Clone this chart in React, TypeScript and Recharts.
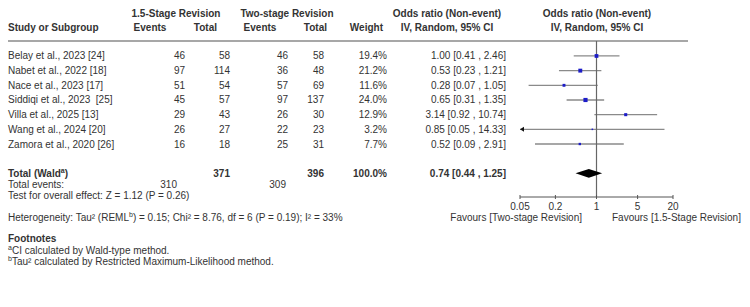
import React from "react";
import { ScatterChart, Scatter, XAxis, YAxis, ReferenceLine } from "recharts";

// Study rows
const studies = [
  "Belay et al., 2023 [24]",
  "Nabet et al., 2022 [18]",
  "Nace et al., 2023 [17]",
  "Siddiqi et al., 2023  [25]",
  "Villa et al., 2025 [13]",
  "Wang et al., 2024 [20]",
  "Zamora et al., 2020 [26]",
];
const eventsA = [46, 97, 51, 45, 29, 26, 16];
const totalA = [58, 114, 54, 57, 43, 27, 18];
const eventsB = [46, 36, 57, 97, 26, 22, 25];
const totalB = [58, 48, 69, 137, 30, 23, 31];
const weights = [19.4, 21.2, 11.6, 24.0, 12.9, 3.2, 7.7];
const oddsRatio = [1.0, 0.53, 0.28, 0.65, 3.14, 0.85, 0.52];
const ciLow = [0.41, 0.23, 0.07, 0.31, 0.92, 0.05, 0.09];
const ciHigh = [2.46, 1.21, 1.05, 1.35, 10.74, 14.33, 2.91];

// Pooled result
const pooled = { or: 0.74, low: 0.44, high: 1.25 };
const totals = { totalA: 371, totalB: 396, eventsA: 310, eventsB: 309, weight: 100.0 };

const xTicks = [0.05, 0.2, 1, 5, 20];
const X_MIN = 0.05;
const X_MAX = 20;

const TOTAL_ROW = 8;
const EVENTS_ROW = 8.75;
const TEST_ROW = 9.5;

const FONT = "'Liberation Sans', Arial, sans-serif";
const TEXT = "#333";

const studyData = studies.map((name, i) => ({
  x: oddsRatio[i],
  y: i,
  weight: weights[i],
  lo: ciLow[i],
  hi: ciHigh[i],
}));

const arrowData = studyData.filter((d) => d.lo <= X_MIN).map((d) => ({ x: X_MIN, y: d.y }));

const diamondData = [
  { x: pooled.low, y: TOTAL_ROW },
  { x: pooled.or, y: TOTAL_ROW - 0.3 },
  { x: pooled.high, y: TOTAL_ROW },
  { x: pooled.or, y: TOTAL_ROW + 0.3 },
];

const fmt2 = (v: number) => v.toFixed(2);
const ciText = (o: number, l: number, h: number) => `${fmt2(o)} [${fmt2(l)} , ${fmt2(h)}]`;

// column right edges
const COL = { evA: 185, totA: 230, evB: 288, totB: 324, weight: 387, or: 506 };

// y is the visual middle of the line
const Label = ({ x, y, children, anchor = "start", bold = false, size = 10 }: any) => (
  <text
    x={x}
    y={y + 3.5}
    textAnchor={anchor}
    fontSize={size}
    fontWeight={bold ? "bold" : "normal"}
    fill={TEXT}
    fontFamily={FONT}
    style={{ whiteSpace: "pre" }}
  >
    {children}
  </text>
);

// superscript letter followed by the rest of the line
const Sup = ({ c, rest }: { c: string; rest: string }) => (
  <>
    <tspan fontSize={7} dy={-4}>{c}</tspan>
    <tspan dy={4}>{rest}</tspan>
  </>
);

// Each y tick draws one line of the table
const RowTick = (props: any) => {
  const { y, payload } = props;
  const v = payload.value;
  if (v === TOTAL_ROW) {
    return (
      <g>
        <Label x={8} y={y} bold>
          Total (Wald<Sup c="a" rest=")" />
        </Label>
        <Label x={COL.totA} y={y} anchor="end" bold>{totals.totalA}</Label>
        <Label x={COL.totB} y={y} anchor="end" bold>{totals.totalB}</Label>
        <Label x={COL.weight} y={y} anchor="end" bold>{totals.weight.toFixed(1)}%</Label>
        <Label x={COL.or} y={y} anchor="end" bold>{ciText(pooled.or, pooled.low, pooled.high)}</Label>
      </g>
    );
  }
  if (v === EVENTS_ROW) {
    return (
      <g>
        <Label x={8} y={y}>Total events:</Label>
        <Label x={177} y={y} anchor="end">{totals.eventsA}</Label>
        <Label x={286} y={y} anchor="end">{totals.eventsB}</Label>
      </g>
    );
  }
  if (v === TEST_ROW) {
    return <Label x={8} y={y}>Test for overall effect: Z = 1.12 (P = 0.26)</Label>;
  }
  const i = v as number;
  return (
    <g>
      <Label x={8} y={y}>{studies[i]}</Label>
      <Label x={COL.evA} y={y} anchor="end">{eventsA[i]}</Label>
      <Label x={COL.totA} y={y} anchor="end">{totalA[i]}</Label>
      <Label x={COL.evB} y={y} anchor="end">{eventsB[i]}</Label>
      <Label x={COL.totB} y={y} anchor="end">{totalB[i]}</Label>
      <Label x={COL.weight} y={y} anchor="end">{weights[i].toFixed(1)}%</Label>
      <Label x={COL.or} y={y} anchor="end">{ciText(oddsRatio[i], ciLow[i], ciHigh[i])}</Label>
    </g>
  );
};

const XTick = (props: any) => {
  const { x, y, payload } = props;
  return (
    <g>
      <line x1={x} x2={x} y1={y - 2} y2={y + 2} stroke="#555" />
      <Label x={x} y={y + 9} anchor="middle">{payload.value}</Label>
    </g>
  );
};

const Square = (props: any) => {
  const { cx, cy, payload } = props;
  const s = Math.sqrt(payload.weight) * 0.85;
  return <rect x={cx - s / 2} y={cy - s / 2} width={s} height={s} fill="#1c1cc8" />;
};

const Arrow = (props: any) => {
  const { cx, cy } = props;
  return <polygon points={`${cx},${cy} ${cx + 4},${cy - 2.5} ${cx + 4},${cy + 2.5}`} fill="#111" />;
};

const Diamond = (p: any) => {
  const pts = (p.points || []).map((q: any) => `${q.x},${q.y}`).join(" ");
  return <polygon points={pts} fill="#000" />;
};

export default function App() {
  return (
    <div style={{ position: "absolute", left: 0, top: 0, width: 750, height: 307, background: "#fff" }}>
      <svg width={750} height={307} style={{ position: "absolute", left: 0, top: 0 }}>
        {/* column headers */}
        <Label x={176} y={13} anchor="middle" bold>1.5-Stage Revision</Label>
        <Label x={287} y={13} anchor="middle" bold>Two-stage Revision</Label>
        <Label x={447} y={13} anchor="middle" bold>Odds ratio (Non-event)</Label>
        <Label x={597} y={13} anchor="middle" bold>Odds ratio (Non-event)</Label>
        <Label x={8} y={27} bold>Study or Subgroup</Label>
        <Label x={150} y={27} anchor="middle" bold>Events</Label>
        <Label x={217} y={27} anchor="end" bold>Total</Label>
        <Label x={260} y={27} anchor="middle" bold>Events</Label>
        <Label x={327} y={27} anchor="end" bold>Total</Label>
        <Label x={383} y={27} anchor="end" bold>Weight</Label>
        <Label x={447} y={27} anchor="middle" bold>IV, Random, 95% CI</Label>
        <Label x={597} y={27} anchor="middle" bold>IV, Random, 95% CI</Label>
        <line x1={8} x2={688} y1={41} y2={41} stroke="#8a8a8a" strokeWidth={1.5} />

        {/* axis captions */}
        <Label x={582} y={217} anchor="end">Favours [Two-stage Revision]</Label>
        <Label x={612} y={217}>Favours [1.5-Stage Revision]</Label>

        {/* heterogeneity and footnotes */}
        <Label x={8} y={217}>
          Heterogeneity: Tau² (REML<Sup c="b" rest=") = 0.15; Chi² = 8.76, df = 6 (P = 0.19); I² = 33%" />
        </Label>
        <Label x={8} y={238} bold>Footnotes</Label>
        <Label x={8} y={250}>
          <Sup c="a" rest="CI calculated by Wald-type method." />
        </Label>
        <Label x={8} y={261}>
          <Sup c="b" rest="Tau² calculated by Restricted Maximum-Likelihood method." />
        </Label>
      </svg>

      <div style={{ position: "absolute", left: 0, top: 0 }}>
        <ScatterChart width={750} height={307} margin={{ top: 41, right: 77, bottom: 90, left: 500 }}>
          <XAxis
            type="number"
            dataKey="x"
            scale="log"
            domain={[X_MIN, X_MAX]}
            ticks={xTicks}
            allowDataOverflow
            height={20}
            tickSize={0}
            tickMargin={0}
            tickLine={false}
            axisLine={{ stroke: "#555" }}
            tick={<XTick />}
            interval={0}
          />
          <YAxis
            type="number"
            dataKey="y"
            domain={[-1.02, 9.61]}
            reversed
            allowDataOverflow
            width={20}
            ticks={[0, 1, 2, 3, 4, 5, 6, TOTAL_ROW, EVENTS_ROW, TEST_ROW]}
            interval={0}
            axisLine={false}
            tickLine={false}
            tick={<RowTick />}
          />
          {studyData.map((d) => (
            <ReferenceLine
              key={d.y}
              segment={[
                { x: Math.max(d.lo, X_MIN), y: d.y },
                { x: Math.min(d.hi, X_MAX), y: d.y },
              ]}
              stroke="#8a8a8a"
              strokeWidth={1.3}
              ifOverflow="visible"
            />
          ))}
          <ReferenceLine x={1} stroke="#666" strokeWidth={1.2} />
          <Scatter data={studyData} shape={<Square />} isAnimationActive={false} />
          <Scatter data={arrowData} shape={<Arrow />} isAnimationActive={false} />
          <Scatter
            data={diamondData}
            shape={() => <g />}
            line={Diamond}
            isAnimationActive={false}
          />
        </ScatterChart>
      </div>
    </div>
  );
}
